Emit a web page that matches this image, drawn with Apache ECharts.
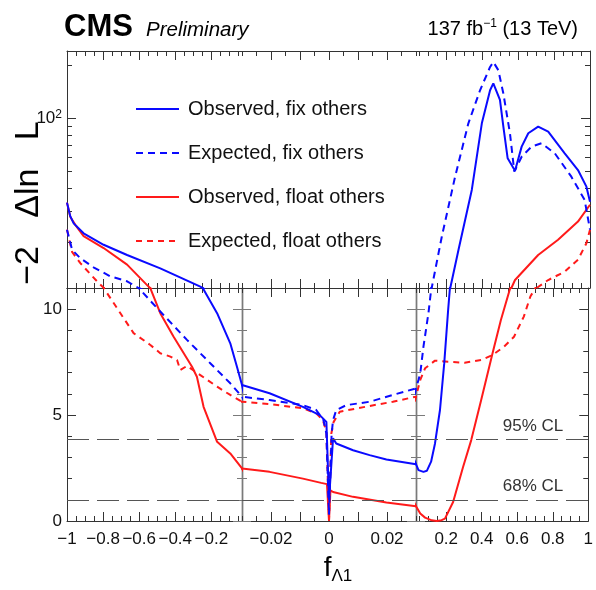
<!DOCTYPE html>
<html><head><meta charset="utf-8">
<script src="https://cdn.jsdelivr.net/npm/echarts@6/dist/echarts.min.js"></script>
<style>html,body{margin:0;padding:0;background:#fff}#c{width:596px;height:590px}</style>
</head><body><div id="c"></div>
<script>
// ---------------- data ----------------
const obsFixX = [-1, -0.982, -0.963, -0.908, -0.797, -0.667, -0.483, -0.261, -0.168, -0.095, -0.058, -0.03, -0.0205, -0.009, -0.0032, -0.0009, 0, 0.0014, 0.0025, 0.0083, 0.014, 0.0198, 0.03, 0.044, 0.072, 0.091, 0.115, 0.137, 0.165, 0.189, 0.211, 0.221, 0.267, 0.341, 0.397, 0.443, 0.461, 0.498, 0.517, 0.541, 0.582, 0.619, 0.656, 0.711, 0.767, 0.859, 0.933, 0.98, 1];
const obsFixY = [33.4, 28.0, 25.5, 22.4, 19.3, 16.9, 14.2, 11.2, 9.81, 8.39, 7.28, 6.42, 6.03, 5.39, 5.0, 4.68, 1.0, 3.9, 3.66, 3.34, 3.11, 2.9, 2.68, 2.4, 2.32, 2.37, 2.8, 3.66, 5.24, 7.45, 9.97, 11.0, 18.1, 39.4, 93.7, 144, 157.6, 127, 89.7, 59.4, 50.6, 69.2, 82.3, 89.7, 84, 63.4, 51, 41.1, 33.8];

const expFixX = [-1, -0.972, -0.926, -0.853, -0.76, -0.667, -0.603, -0.483, -0.335, -0.206, -0.095, -0.03, -0.0205, -0.009, -0.0044, -0.0019, -0.0009, 0, 0.0009, 0.0014, 0.0025, 0.006, 0.014, 0.022, 0.03, 0.044, 0.054, 0.072, 0.1, 0.119, 0.174, 0.248, 0.322, 0.387, 0.443, 0.461, 0.489, 0.517, 0.554, 0.578, 0.619, 0.674, 0.73, 0.804, 0.896, 0.97, 1];
const expFixY = [23.5, 18.1, 16.2, 14.4, 12.8, 12.0, 11.0, 9.89, 8.55, 7.45, 6.5, 5.87, 5.71, 5.47, 5.24, 4.76, 4.13, 0.3, 4.1, 4.76, 5.24, 5.47, 5.63, 5.95, 6.26, 6.66, 6.97, 8.23, 9.81, 11.2, 21.5, 46.8, 93.7, 144, 195, 208, 187, 138, 82, 50, 60.7, 69.2, 72.3, 63.4, 46.8, 34.6, 23.5];

const obsFloatX = [-1, -0.982, -0.954, -0.908, -0.797, -0.667, -0.548, -0.483, -0.409, -0.307, -0.28, -0.243, -0.168, -0.095, -0.03, -0.0205, -0.009, -0.0027, -0.0007, 0, 0.0005, 0.0014, 0.0083, 0.0198, 0.03, 0.054, 0.081, 0.119, 0.147, 0.174, 0.193, 0.239, 0.295, 0.341, 0.397, 0.461, 0.508, 0.563, 0.582, 0.711, 0.822, 0.933, 1];
const obsFloatY = [33.4, 27.8, 25.0, 21.6, 18.5, 14.9, 11.2, 9.81, 8.7, 7.28, 6.81, 5.39, 3.74, 3.19, 2.48, 2.32, 2.0, 1.8, 1.74, 0, 1.45, 1.37, 1.14, 0.87, 0.7, 0.35, 0.16, 0.03, 0, 0.04, 0.11, 0.9, 2.55, 3.82, 5.71, 7.92, 9.49, 11.07, 12.2, 16.9, 20.6, 26.1, 32.5];

const expFloatX = [-1, -0.972, -0.926, -0.871, -0.83, -0.796, -0.778, -0.704, -0.631, -0.538, -0.483, -0.427, -0.39, -0.372, -0.335, -0.261, -0.168, -0.095, -0.03, -0.0205, -0.009, -0.0044, -0.0021, -0.0009, 0, 0.0008, 0.0016, 0.0037, 0.014, 0.022, 0.03, 0.054, 0.081, 0.137, 0.211, 0.304, 0.397, 0.461, 0.526, 0.582, 0.637, 0.674, 0.702, 0.767, 0.859, 0.933, 0.98, 1];
const expFloatY = [23.5, 17.6, 15.2, 13.2, 11.9, 11.0, 10.76, 9.81, 8.87, 8.31, 7.92, 7.76, 7.6, 7.13, 7.32, 6.89, 6.34, 5.95, 5.63, 5.52, 5.32, 5.08, 4.76, 4.21, 0, 4.13, 4.68, 5.16, 5.43, 5.63, 5.87, 6.66, 7.21, 7.57, 7.52, 7.47, 7.6, 7.84, 8.23, 8.7, 9.65, 10.6, 11.0, 12.2, 13.6, 15.9, 19.7, 23.5];

const seriesNames = ['Observed, fix others', 'Expected, fix others', 'Observed, float others', 'Expected, float others'];

// x-axis segments and ticks
const xSegments = [[-1, -0.03], [-0.03, 0.03], [0.03, 1]];
const xTickLabels = [[-1, -0.8, -0.6, -0.4, -0.2], [-0.02, 0, 0.02], [0.2, 0.4, 0.6, 0.8, 1]];
const xMajorTicks = [[-1, -0.8, -0.6, -0.4, -0.2], [-0.02, -0.01, 0, 0.01, 0.02], [0.2, 0.4, 0.6, 0.8, 1]];
const xMinorStep = [0.05, 0.005, 0.05];

// y-axis: lower linear panel and upper log panel
const yLowerRange = [0, 11];
const yUpperRange = [11, 240];
const yLowerLabels = [0, 5, 10];
const yLowerMinor = [1, 2, 3, 4, 6, 7, 8, 9];
const yUpperLabels = [100];
const yUpperMinor = [20, 30, 40, 50, 60, 70, 80, 90, 200];

// confidence-level thresholds
const clValues = [3.84, 1];
const clLabels = ['95% CL', '68% CL'];

// ---------------- layout / style ----------------
const FONT = '"Liberation Sans", Arial, Helvetica, sans-serif';
const BLUE = '#0a0aff', RED = '#ff1a1a';
const FRAME = '#333', SEP = '#7a7a7a';
const gridLeft = [67, 242, 416], gridWidth = [175, 174, 174];
const TOP = 51, HU = 237, HL = 233;

function minorTicks(s) {
  const [mn, mx] = xSegments[s];
  const st = xMinorStep[s];
  const out = [];
  const k0 = Math.ceil(mn / st - 1e-9), k1 = Math.floor(mx / st + 1e-9);
  for (let k = k0; k <= k1; k++) {
    const v = Math.round(k * st * 1e5) / 1e5;
    if (!xMajorTicks[s].some(m => Math.abs(m - v) < 1e-7)) out.push(v);
  }
  return out;
}
const fmtMinus = v => String(v).replace('-', '\u2212');

const grids = [], xAxes = [], yAxes = [], series = [];
const defs = [
  { name: seriesNames[3], xs: expFloatX, ys: expFloatY, color: RED, type: [6, 5] },
  { name: seriesNames[2], xs: obsFloatX, ys: obsFloatY, color: RED, type: 'solid' },
  { name: seriesNames[1], xs: expFixX, ys: expFixY, color: BLUE, type: [7, 5] },
  { name: seriesNames[0], xs: obsFixX, ys: obsFixY, color: BLUE, type: 'solid' }
];

function pick(xs, ys, s, logY) {
  const [mn, mx] = xSegments[s];
  const inR = i => i >= 0 && i < xs.length && xs[i] >= mn && xs[i] <= mx;
  const out = [];
  for (let i = 0; i < xs.length; i++) {
    if (inR(i) || inR(i - 1) || inR(i + 1)) out.push([xs[i], logY ? Math.max(ys[i], 0.01) : ys[i]]);
  }
  return out;
}

for (let p = 0; p < 2; p++) {          // 0 = upper (log), 1 = lower (linear)
  for (let s = 0; s < 3; s++) {
    const g = p * 3 + s;
    grids.push({ left: gridLeft[s], width: gridWidth[s], top: p === 0 ? TOP : TOP + HU, height: p === 0 ? HU : HL, containLabel: false });
    const [mn, mx] = xSegments[s];
    const mkX = (pos, major) => ({
      gridIndex: g, type: 'value', min: mn, max: mx, position: pos,
      splitLine: { show: false },
      axisLine: { show: major, onZero: false, lineStyle: { color: FRAME, width: 1 } },
      axisTick: { show: true, inside: true, length: major ? 9 : 5, customValues: major ? xMajorTicks[s] : minorTicks(s), lineStyle: { color: FRAME, width: 1 } },
      axisLabel: { show: major && pos === 'bottom' && p === 1, customValues: xTickLabels[s], formatter: fmtMinus, margin: 10, fontSize: 17, fontFamily: FONT, color: '#111' }
    });
    xAxes.push(mkX('bottom', true), mkX('bottom', false), mkX('top', true), mkX('top', false));

    const isLog = p === 0;
    const yr = isLog ? yUpperRange : yLowerRange;
    const mkY = (pos, major) => {
      let showLine;
      if (pos === 'left') showLine = s === 0 || p === 1;
      else showLine = s === 2 || p === 1;
      const outer = (pos === 'left' && s === 0) || (pos === 'right' && s === 2);
      const col = outer ? FRAME : SEP;
      const ax = {
        gridIndex: g, type: isLog ? 'log' : 'value', min: yr[0], max: yr[1], position: pos,
        splitLine: { show: false },
        axisLine: { show: showLine && major, onZero: false, lineStyle: { color: col, width: outer ? 1 : 1.4 } },
        axisTick: { show: showLine, inside: true, length: major ? 9 : 5,
          customValues: isLog ? (major ? yUpperLabels : yUpperMinor) : (major ? yLowerLabels : yLowerMinor),
          lineStyle: { color: col, width: 1 } },
        axisLabel: { show: major && pos === 'left' && s === 0, customValues: isLog ? yUpperLabels : yLowerLabels,
          margin: 5, fontSize: 17, fontFamily: FONT, color: '#111',
          formatter: isLog ? (v => '{a|10}{b|' + Math.round(Math.log10(v)) + '}') : (v => String(v)),
          rich: { a: { fontSize: 17, fontFamily: FONT, color: '#111', lineHeight: 20 }, b: { fontSize: 12, fontFamily: FONT, color: '#111', verticalAlign: 'top', lineHeight: 20 } } }
      };
      if (isLog) ax.logBase = 10;
      return ax;
    };
    yAxes.push(mkY('left', true), mkY('left', false), mkY('right', true), mkY('right', false));

    for (const d of defs) {
      series.push({
        type: 'line', name: d.name, xAxisIndex: g * 4, yAxisIndex: g * 4,
        data: pick(d.xs, d.ys, s, isLog), symbol: 'none', clip: true, silent: true,
        lineStyle: { color: d.color, width: 2, type: d.type }, itemStyle: { color: d.color }
      });
    }
    if (p === 1) {
      series.push({
        type: 'line', name: 'CL', xAxisIndex: g * 4, yAxisIndex: g * 4, data: [], silent: true,
        markLine: {
          silent: true, symbol: 'none', animation: false,
          lineStyle: { color: '#555', width: 1.2, type: [22, 8] },
          data: clValues.map((v, i) => ({
            yAxis: v,
            label: s === 2 ? { show: true, position: 'insideEndTop', formatter: clLabels[i], fontSize: 17, fontFamily: FONT, color: '#333', padding: [0, 20, 0, 0] } : { show: false }
          }))
        }
      });
    }
  }
}

const chart = echarts.init(document.getElementById('c'), null, { renderer: 'canvas' });
chart.setOption({
  animation: false,
  backgroundColor: '#fff',
  grid: grids, xAxis: xAxes, yAxis: yAxes, series: series,
  legend: {
    data: seriesNames, orient: 'vertical', left: 130, top: 92, itemWidth: 43, itemHeight: 14, itemGap: 20,
    selectedMode: false, itemStyle: { opacity: 0 },
    textStyle: { fontSize: 20, fontFamily: FONT, color: '#111', lineHeight: 24, padding: [0, 0, 0, 4] }
  },
  graphic: [
    { type: 'text', x: 64, y: 27, style: { text: 'CMS', font: 'bold 31px ' + FONT, fill: '#000', verticalAlign: 'middle', textVerticalAlign: 'middle' } },
    { type: 'text', x: 146, y: 30, style: { text: 'Preliminary', font: 'italic 20.5px ' + FONT, fill: '#000', verticalAlign: 'middle', textVerticalAlign: 'middle' } },
    { type: 'text', x: 578, y: 29, style: {
        text: '{n|137 fb}{s|\u22121}{n| (13 TeV)}', align: 'right', textAlign: 'right', verticalAlign: 'middle', textVerticalAlign: 'middle',
        rich: { n: { fontSize: 20, fontFamily: FONT, color: '#000', lineHeight: 22 }, s: { fontSize: 12, fontFamily: FONT, color: '#000', verticalAlign: 'top', lineHeight: 22 } } } },
    { type: 'text', x: 29, y: 203, rotation: Math.PI / 2, style: { text: '\u22122   \u0394ln   L', font: '34px ' + FONT, fill: '#000', align: 'center', textAlign: 'center', verticalAlign: 'middle', textVerticalAlign: 'middle' } },
    { type: 'text', x: 338, y: 568, style: {
        text: '{f|f}{s|\u039B1}', align: 'center', textAlign: 'center', verticalAlign: 'middle', textVerticalAlign: 'middle',
        rich: { f: { fontSize: 28, fontFamily: FONT, color: '#000', lineHeight: 34 }, s: { fontSize: 17, fontFamily: FONT, color: '#000', verticalAlign: 'bottom', lineHeight: 34 } } } }
  ]
});
</script></body></html>
